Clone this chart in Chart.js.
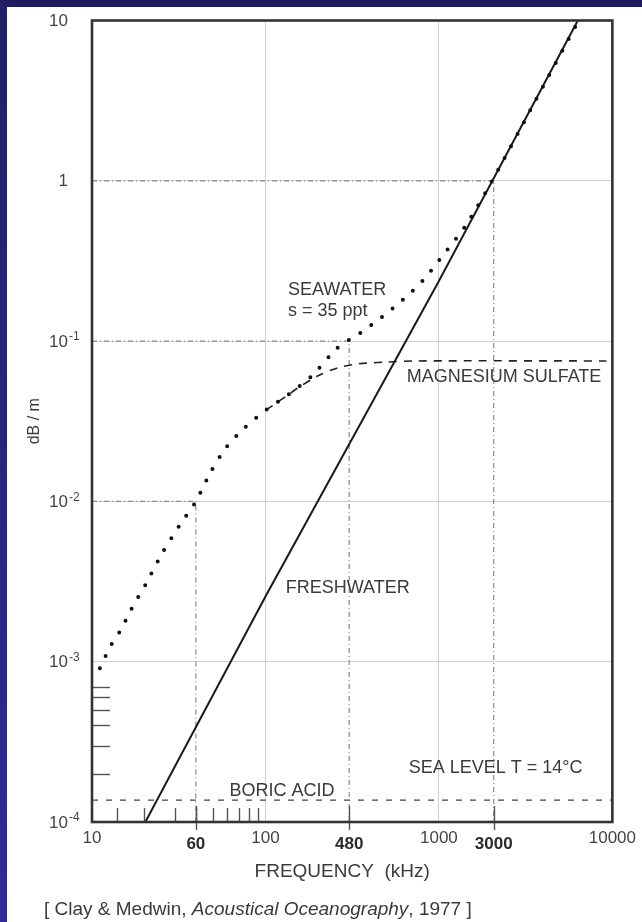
<!DOCTYPE html>
<html><head><meta charset="utf-8">
<script src="https://cdn.jsdelivr.net/npm/chart.js@4.4.1/dist/chart.umd.min.js"></script>
<style>
html,body{margin:0;padding:0;background:#fff;}
#wrap{position:relative;width:642px;height:922px;background:#fff;overflow:hidden;}
#topbar{position:absolute;left:0;top:0;width:642px;height:7px;background:#1f1c5e;}
#leftbar{position:absolute;left:0;top:0;width:7px;height:922px;background:linear-gradient(#221f66,#2f2b98);}
#c{position:absolute;left:0;top:0;}
#cite{position:absolute;left:44px;top:898px;font:19px "Liberation Sans",Arial,sans-serif;line-height:22px;color:#3a3a3a;white-space:nowrap;}
</style></head><body>
<div id="wrap">
<canvas id="c" width="642" height="922"></canvas>
<div id="topbar"></div><div id="leftbar"></div>
<div id="cite">[ Clay &amp; Medwin, <i>Acoustical Oceanography</i>, 1977 ]</div>
</div>
<script>
// ---------- data ----------
const seaFreq = [11.1,12.2,13.2,14.5,15.8,17.1,20.6,25.4,31.8,39.7,48.4,59.7,76.6,100.9,134.8,187.1,259.8,351.5,469,618,804,1005,1433,2070,3594,6324];
const seaAtt  = [0.00091,0.00113,0.00133,0.00155,0.00185,0.00219,0.0031,0.00476,0.00703,0.0100,0.0153,0.0219,0.0291,0.0372,0.0461,0.0614,0.0906,0.1123,0.1414,0.1804,0.237,0.320,0.53,1.04,3.15,9.8];
const freshFreq = [20.3, 100, 1000, 6324];
const freshAtt  = [0.0001, 0.00255, 0.237, 10];
const mgFreq = [100.9, 134.8, 153.7, 199.6, 259.8, 338, 501, 743, 9245];
const mgAtt  = [0.0372, 0.0461, 0.051, 0.0605, 0.068, 0.072, 0.074, 0.0752, 0.0752];
const boricFreq = [10, 10000];
const boricAtt  = [0.000137, 0.000137];
const markerFreq   = [39.7, 304, 2070];
const markerAtt    = [0.01, 0.1, 1];
const markerLabels = ['60', '480', '3000'];
const xTickValues = [10, 100, 1000, 10000];
const xTickLabels = ['10', '100', '1000', '10000'];
const yTickValues = [0.0001, 0.001, 0.01, 0.1, 1, 10];
const yTickBase = ['10', '10', '10', '10', '1', '10'];
const yTickExp  = ['-4', '-3', '-2', '-1', '', ''];
const xMinorTicks = [14, 20, 30, 40, 50, 60, 70, 80, 90];
const yMinorTicks = [0.0002, 0.0003, 0.0004, 0.0005, 0.0006, 0.0007];
const labelTexts = ['SEAWATER', 's = 35 ppt', 'MAGNESIUM SULFATE', 'FRESHWATER', 'SEA LEVEL T = 14°C', 'BORIC ACID'];
const labelFreq  = [134.8, 134.8, 651.6, 131, 669, 62.1];
const labelAtt   = [0.194, 0.1434, 0.0556, 0.00268, 0.000202, 0.0001453];
const xTitle = 'FREQUENCY  (kHz)';
const yTitle = 'dB / m';

// ---------- chart ----------
const FONT = '"Liberation Sans", Arial, Helvetica, sans-serif';
const TXT = '#3a3a3a';
const pts = (xs, ys) => xs.map((x, i) => ({x: x, y: ys[i]}));

const refSets = markerFreq.map((f, i) => ({
  data: [{x: 10, y: markerAtt[i]}, {x: f, y: markerAtt[i]}, {x: f, y: 0.0001}],
  borderColor: '#8a8a8a', borderWidth: 1.2, borderDash: [5, 3, 1, 3],
  pointRadius: 0, tension: 0, fill: false
}));

const decor = {
  id: 'decor',
  afterDatasetsDraw(chart) {
    const {ctx, chartArea: a, scales: {x, y}} = chart;
    ctx.save();
    ctx.strokeStyle = '#555'; ctx.lineWidth = 1.4;
    xMinorTicks.forEach(v => {
      const px = Math.round(x.getPixelForValue(v)) + 0.5;
      ctx.beginPath(); ctx.moveTo(px, a.bottom); ctx.lineTo(px, a.bottom - 14); ctx.stroke();
    });
    yMinorTicks.forEach(v => {
      const py = Math.round(y.getPixelForValue(v)) + 0.5;
      ctx.beginPath(); ctx.moveTo(a.left, py); ctx.lineTo(a.left + 18, py); ctx.stroke();
    });
    markerFreq.forEach(v => {
      const px = Math.round(x.getPixelForValue(v)) + 0.5;
      ctx.beginPath(); ctx.moveTo(px, a.bottom - 16); ctx.lineTo(px, a.bottom + 8); ctx.stroke();
    });
    ctx.strokeStyle = '#333'; ctx.lineWidth = 2.6;
    ctx.strokeRect(a.left, a.top, a.right - a.left, a.bottom - a.top);
    ctx.fillStyle = '#2a2a2a'; ctx.textAlign = 'center'; ctx.textBaseline = 'middle';
    ctx.font = 'bold 17px ' + FONT;
    markerFreq.forEach((v, i) => {
      ctx.fillText(markerLabels[i], x.getPixelForValue(v), a.bottom + 22);
    });
    ctx.fillStyle = TXT; ctx.font = '19px ' + FONT;
    ctx.fillText(xTitle, (a.left + a.right) / 2 - 10, a.bottom + 50);
    ctx.fillStyle = '#444';
    yTickValues.forEach((v, i) => {
      const py = y.getPixelForValue(v);
      ctx.font = '17px ' + FONT; ctx.textAlign = 'right'; ctx.textBaseline = 'middle';
      ctx.fillText(yTickBase[i], 68, py + 1);
      if (yTickExp[i]) {
        ctx.font = '12px ' + FONT; ctx.textAlign = 'left';
        ctx.fillText(yTickExp[i], 69, py - 4);
      }
    });
    ctx.fillStyle = TXT;
    ctx.font = '18px ' + FONT; ctx.textAlign = 'left'; ctx.textBaseline = 'alphabetic';
    labelTexts.forEach((t, i) => {
      ctx.fillText(t, x.getPixelForValue(labelFreq[i]), y.getPixelForValue(labelAtt[i]));
    });
    ctx.restore();
  }
};

new Chart(document.getElementById('c'), {
  type: 'line',
  data: {
    datasets: [
      {label: 'Seawater', data: pts(seaFreq, seaAtt), borderColor: '#111', borderWidth: 4,
       borderDash: [0, 13.5], borderCapStyle: 'round', pointRadius: 0, tension: 0.25, fill: false},
      {label: 'Freshwater', data: pts(freshFreq, freshAtt), borderColor: '#1a1a1a', borderWidth: 2,
       pointRadius: 0, tension: 0, fill: false},
      {label: 'Magnesium sulfate', data: pts(mgFreq, mgAtt), borderColor: '#222', borderWidth: 1.6,
       borderDash: [8, 7], pointRadius: 0, tension: 0.3, fill: false},
      {label: 'Boric acid', data: pts(boricFreq, boricAtt), borderColor: '#444', borderWidth: 1.3,
       borderDash: [6, 8], pointRadius: 0, tension: 0, fill: false},
      ...refSets
    ]
  },
  options: {
    responsive: false, animation: false, devicePixelRatio: 1,
    layout: {padding: {left: 0, right: 24, top: 20.5, bottom: 0}},
    plugins: {legend: {display: false}, tooltip: {enabled: false}},
    scales: {
      x: {
        type: 'logarithmic', min: 10, max: 10000, position: 'bottom',
        afterBuildTicks: s => { s.ticks = xTickValues.map(v => ({value: v})); },
        afterFit: s => { s.height = 100; },
        ticks: {font: {family: FONT, size: 17}, color: '#444', padding: 6, maxRotation: 0, autoSkip: false,
                callback: (v) => xTickLabels[xTickValues.indexOf(v)] ?? ''},
        grid: {color: '#cfcfcf', lineWidth: 1, drawTicks: false},
        border: {display: false},
        title: {display: false}
      },
      y: {
        type: 'logarithmic', min: 0.0001, max: 10,
        afterBuildTicks: s => { s.ticks = yTickValues.map(v => ({value: v})); },
        afterFit: s => { s.width = 92; },
        ticks: {display: false},
        grid: {color: '#cfcfcf', lineWidth: 1, drawTicks: false},
        border: {display: false},
        title: {display: true, text: yTitle, color: TXT,
                font: {family: FONT, size: 16}, padding: {top: 25.4, bottom: 0}}
      }
    }
  },
  plugins: [decor]
});
</script>
</body></html>
